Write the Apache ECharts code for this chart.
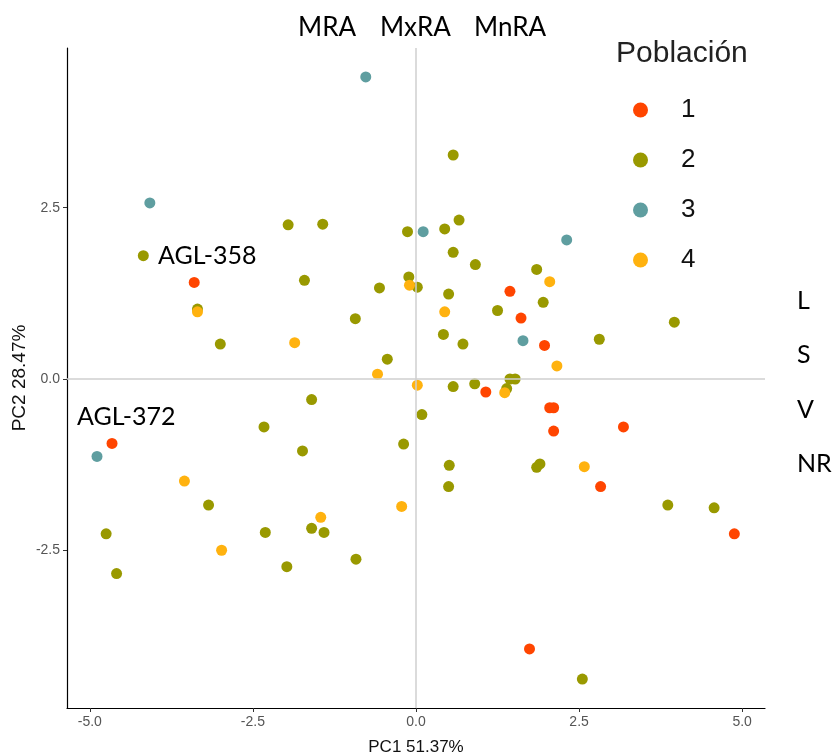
<!DOCTYPE html>
<html>
<head>
<meta charset="utf-8">
<script src="https://cdn.jsdelivr.net/npm/echarts@6/dist/echarts.min.js"></script>
<style>html,body{margin:0;padding:0;background:#fff;}#c{width:834px;height:755px;}</style>
</head>
<body>
<div id="c"></div>
<script>
// ---- data (PC1, PC2) per population ----
const pob1 = [[-3.40,1.41],[-4.66,-0.94],[1.44,1.28],[1.61,0.89],[1.97,0.49],[1.07,-0.19],[2.05,-0.42],[2.11,-0.42],[2.11,-0.76],[3.18,-0.70],[2.83,-1.57],[4.88,-2.26],[1.74,-3.94]];
const pob2 = [[-4.18,1.80],[-1.96,2.25],[-1.43,2.26],[-0.13,2.15],[0.57,3.27],[0.66,2.32],[0.44,2.19],[0.57,1.85],[0.91,1.67],[1.85,1.60],[-1.71,1.44],[-3.35,1.02],[-0.56,1.33],[-0.11,1.49],[0.02,1.34],[0.50,1.24],[1.25,1.00],[1.95,1.12],[0.42,0.65],[0.72,0.51],[-0.93,0.88],[-0.44,0.29],[-3.00,0.51],[3.96,0.83],[2.81,0.58],[1.44,0.00],[1.52,0.00],[0.57,-0.11],[0.90,-0.07],[1.39,-0.14],[0.09,-0.52],[-1.60,-0.30],[-2.33,-0.70],[-1.74,-1.05],[-0.19,-0.95],[0.51,-1.26],[0.50,-1.57],[1.85,-1.29],[1.90,-1.24],[3.86,-1.84],[4.57,-1.88],[2.55,-4.38],[-3.18,-1.84],[-4.75,-2.26],[-4.59,-2.84],[-2.31,-2.24],[-1.98,-2.74],[-1.60,-2.18],[-1.41,-2.24],[-0.92,-2.63]];
const pob3 = [[-0.77,4.41],[-4.08,2.57],[0.11,2.15],[2.31,2.03],[1.64,0.56],[-4.89,-1.13]];
const pob4 = [[-3.35,0.98],[-1.86,0.53],[-0.59,0.07],[-0.10,1.37],[0.02,-0.09],[0.44,0.98],[2.05,1.42],[2.16,0.19],[1.36,-0.20],[2.58,-1.28],[-3.55,-1.49],[-2.98,-2.50],[-1.46,-2.02],[-0.22,-1.86]];
const groupNames = ['1','2','3','4'];
const xTicks = [-5.0,-2.5,0.0,2.5,5.0];
const yTicks = [-2.5,0.0,2.5];
const xTitle = 'PC1 51.37%';
const yTitle = 'PC2 28.47%';
const legendTitle = 'Población';
const topLabels = ['MRA','MxRA','MnRA'];
const sideLabels = ['L','S','V','NR'];
const pointLabels = ['AGL-358','AGL-372'];

const colors = ['#FF4500','#999900','#5F9EA0','#FFB20F'];
const chart = echarts.init(document.getElementById('c'));
const sans = 'Liberation Sans, Arial, sans-serif';
const cal = 'Lato, sans-serif';

function txt(text, x, y, size, font, color, extra) {
  return Object.assign({type:'text', x:x, y:y, silent:true,
    style:{text:text, font: size + 'px ' + font, fill: color || '#000', verticalAlign:'middle', align:'left'}}, extra || {});
}

const allData = [pob1, pob2, pob3, pob4];
const series = allData.map((d,i)=>({
  name: groupNames[i], type:'scatter', data:d, symbol:'circle', symbolSize:11,
  itemStyle:{color:colors[i], opacity:1}, z:3
}));
series.unshift({
  type:'line', data:[], z:1, silent:true, legendHoverLink:false,
  markLine:{silent:true, symbol:['none','none'], label:{show:false},
    lineStyle:{color:'#cfcfcf', width:1.5, type:'solid'},
    data:[{xAxis:0},{yAxis:0}]}
});

chart.setOption({
  animation:false,
  backgroundColor:'#fff',
  grid:{left:67, top:48, right:69, bottom:47, containLabel:false},
  xAxis:{type:'value', min:-5.35, max:5.35,
    axisLine:{onZero:false, lineStyle:{color:'#000', width:1.2}},
    axisTick:{show:true, length:4, lineStyle:{color:'#333'}, customValues:xTicks},
    axisLabel:{customValues:xTicks, formatter:v=>v.toFixed(1), color:'#555', fontSize:14, fontFamily:sans, margin:7},
    splitLine:{show:false}},
  yAxis:{type:'value', min:-4.803, max:4.832,
    axisLine:{onZero:false, lineStyle:{color:'#000', width:1.2}},
    axisTick:{show:true, length:4, lineStyle:{color:'#333'}, customValues:yTicks},
    axisLabel:{customValues:yTicks, formatter:v=>v.toFixed(1), color:'#555', fontSize:14, fontFamily:sans, margin:7},
    splitLine:{show:false}},
  legend:{data:groupNames, orient:'vertical', left:628, top:91, itemWidth:15, itemHeight:15, itemGap:22,
    icon:'circle', selectedMode:false,
    textStyle:{fontSize:26, fontFamily:sans, color:'#111', padding:[0,0,0,28], lineHeight:28}},
  series: series,
  graphic:[
    txt(topLabels[0], 298, 27.5, 26, cal),
    txt(topLabels[1], 380, 27.5, 26, cal),
    txt(topLabels[2], 474, 27.5, 26, cal),
    txt(legendTitle, 616, 54, 30, sans, '#222'),
    txt(sideLabels[0], 797, 301, 25, cal),
    txt(sideLabels[1], 797, 355, 25, cal),
    txt(sideLabels[2], 797, 410, 25, cal),
    txt(sideLabels[3], 797, 464, 25, cal),
    txt(pointLabels[0], 158, 256, 25, cal),
    txt(pointLabels[1], 77, 417, 25, cal),
    {type:'text', x:416, y:747, silent:true, style:{text:xTitle, font:'17px '+sans, fill:'#111', align:'center', verticalAlign:'middle'}},
    {type:'text', x:20, y:378, rotation:Math.PI/2, silent:true, style:{text:yTitle, font:'19px '+sans, fill:'#111', align:'center', verticalAlign:'middle'}}
  ]
});
</script>
</body>
</html>
